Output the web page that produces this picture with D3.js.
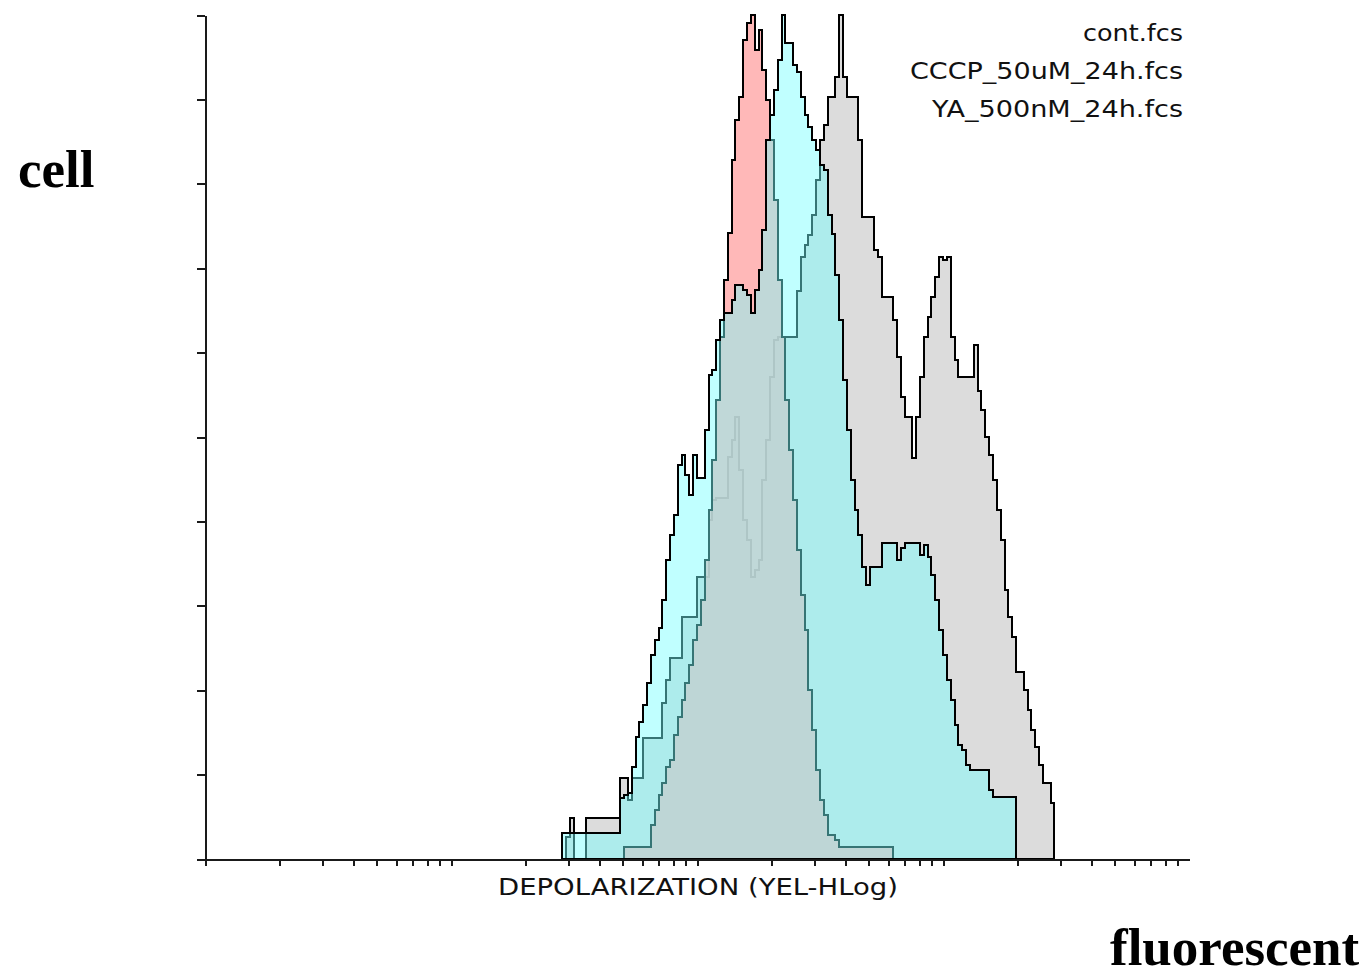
<!DOCTYPE html>
<html>
<head>
<meta charset="utf-8">
<script src="https://cdn.jsdelivr.net/npm/d3@7"></script>
<style>
	body { margin: 0; background: #fff; }
	.axis path, .axis line { stroke: #1a1a1a; stroke-width: 2; shape-rendering: crispEdges; }
	.legend, .xlabel { font-family: "DejaVu Sans", sans-serif; fill: #111; }
	.bigLabel { font-family: "Liberation Serif", "Times New Roman", serif; font-weight: bold; fill: #000; }
</style>
</head>
<body>
<div id="chartDiv"></div>
<script>
	// legend + axis text
	var legendLabels = ["cont.fcs", "CCCP_50uM_24h.fcs", "YA_500nM_24h.fcs"];
	var xAxisLabelHeader = "DEPOLARIZATION (YEL-HLog)";
	var yAxisWord = "cell";
	var xAxisWord = "fluorescent";
	var yTickValues = [0, 10, 20, 30, 40, 50, 60, 70, 80, 90, 100];

	// histograms: 256 channels over 4 log decades, counts scaled so the peak = 100
	var contStart = 94;
	var contCounts = [2.6, 4.9, 0, 0, 0, 4.9, 4.9, 4.9, 4.9, 4.9, 4.9, 4.9, 4.9, 4.9,
		9.6, 9.6, 7.0, 9.6, 9.6, 9.6, 14.3, 14.3, 14.3, 14.3, 14.3,
		18.5, 21.2, 23.8, 23.8, 23.8, 28.7, 28.7, 28.7, 28.7, 33.4, 33.4, 33.4,
		40.2, 42.5, 42.8, 42.8, 42.8, 47.6, 49.6, 52.4, 46.1, 40.2, 37.8, 33.4, 34.2, 35.4,
		44.9, 49.6, 57.1, 61.5, 61.8, 61.8, 61.8, 61.8, 61.8, 67.3, 71.3, 72.7, 73.9, 76.3,
		80.5, 85.2, 87.0, 90.3, 90.3, 92.7, 100, 92.7, 90.3, 90.3, 90.3, 85.2,
		76.1, 76.1, 76.1, 72.2, 71.3, 66.6, 66.6, 66.6, 63.9, 59.5, 54.7, 52.4, 52.4, 47.5,
		52.4, 57.1, 61.8, 64.2, 66.6, 69.0, 71.3, 71.0, 71.3, 61.8, 59.1, 57.1, 57.1, 57.1, 57.1,
		60.9, 55.5, 53.2, 50.0, 47.9, 44.9, 41.4, 37.8, 31.9, 28.7, 26.3, 22.2, 22.2, 20.0,
		17.7, 15.3, 13.3, 11.1, 9.0, 9.0, 6.6];

	var cccpStart = 93;
	var cccpCounts = [3.1, 3.1, 3.1, 3.1, 3.1, 3.1, 3.1, 3.1, 3.1, 3.1, 3.1, 3.1, 3.1, 3.1, 3.1,
		7.2, 7.6, 7.8, 10.9, 14.5, 16.2, 18.2, 20.9, 24.2, 25.9, 27.4, 30.7, 35.4, 38.4, 40.8,
		46.7, 47.9, 45.5, 43.1, 47.9, 45.1, 45.1, 50.8, 57.3, 57.9, 61.5, 63.9, 64.7,
		64.7, 66.2, 68.0, 68.0, 67.4, 66.8, 64.7, 67.4, 69.8, 74.5, 85.2, 88.2, 91.1, 94.7,
		100, 96.7, 96.7, 94.1, 93.2, 90.3, 88.2, 86.7, 85.2, 84.0, 82.2, 81.6, 76.3, 74.0,
		69.2, 63.9, 56.8, 50.8, 44.9, 41.4, 38.4, 34.6, 32.5, 34.6, 34.6, 34.6, 37.4, 37.4,
		37.4, 37.4, 35.4, 36.8, 37.4, 37.4, 37.4, 37.4, 36.0, 37.2, 35.8, 33.6, 30.7, 27.1,
		24.2, 21.2, 18.8, 15.9, 13.5, 12.9, 11.1, 10.5, 10.5, 10.5, 10.5, 10.5, 8.2,
		7.3, 7.3, 7.3, 7.3, 7.3, 7.3];

	var yaStart = 109;
	var yaCounts = [1.4, 1.4, 1.4, 1.4, 1.4, 1.4, 1.4, 4.0, 5.8, 7.6, 9.0, 10.9, 11.7, 14.7,
		16.8, 18.8, 20.9, 23.0, 25.9, 27.7, 30.7, 35.4, 41.4, 47.3, 54.4, 61.8, 68.6, 74.2,
		82.8, 87.6, 90.3, 97.0, 99.1, 100, 95.9, 98.2, 93.5, 89.9, 85.2, 78.1, 68.6, 61.8,
		54.4, 48.5, 42.5, 36.6, 31.3, 27.1, 20.0, 15.3, 10.5, 7.0, 5.2, 2.8, 2.8, 2.3,
		1.4, 1.4, 1.4, 1.4, 1.4, 1.4, 1.4, 1.4, 1.4, 1.4, 1.4, 1.4, 1.4, 1.4];

	var width = 1371;
	var height = 977;
	var plot = { left: 205, right: 1189, top: 15, bottom: 859 };
	var channelsPerDecade = 64;

	var chart;

	init();

	function init() {
		chart = d3.select("#chartDiv").append("svg")
			.attr("width", width)
			.attr("height", height);

		chart.xScale = d3.scaleLog()
			.domain([1, 1e4])
			.range([plot.left, plot.right]);

		chart.yScale = d3.scaleLinear()
			.domain([0, 100])
			.range([plot.bottom, plot.top]);

		// overlay order: control at the back, YA in the middle, CCCP on top
		drawHistogram(contStart, contCounts, "#dcdcdc", 1);
		drawHistogram(yaStart, yaCounts, "rgb(255,174,174)", 0.87);
		drawHistogram(cccpStart, cccpCounts, "rgb(117,255,255)", 0.46);

		createAxes();
		addLegend();
		addLabels();
	}

	function channelToValue(ch) {
		return Math.pow(10, ch / channelsPerDecade);
	}

	function drawHistogram(start, counts, fill, opacity) {
		var pts = [{ ch: start, v: 0 }];
		counts.forEach(function(c, i) {
			pts.push({ ch: start + i, v: c });
		});
		pts.push({ ch: start + counts.length, v: 0 });

		var area = d3.area()
			.curve(d3.curveStepAfter)
			.x(function(d) { return chart.xScale(channelToValue(d.ch)); })
			.y0(chart.yScale(0))
			.y1(function(d) { return chart.yScale(d.v); });

		chart.append("path")
			.datum(pts)
			.attr("d", area)
			.attr("fill", fill)
			.attr("fill-opacity", opacity)
			.attr("stroke", "#000")
			.attr("stroke-width", 2)
			.attr("shape-rendering", "crispEdges");
	}

	function createAxes() {
		var xTicks = chart.xScale.ticks().filter(function(t) { return t < 1e4; });

		chart.xAxis = d3.axisBottom(chart.xScale)
			.tickValues(xTicks)
			.tickSize(7)
			.tickSizeOuter(0)
			.tickFormat("");

		chart.append("g")
			.attr("class", "x axis")
			.attr("transform", "translate(0," + plot.bottom + ")")
			.call(chart.xAxis);

		chart.yAxis = d3.axisLeft(chart.yScale)
			.tickValues(yTickValues)
			.tickSize(8)
			.tickSizeOuter(0)
			.tickFormat("");

		chart.append("g")
			.attr("class", "y axis")
			.attr("transform", "translate(" + plot.left + ",0)")
			.call(chart.yAxis);

		chart.append("text")
			.attr("class", "xlabel")
			.attr("x", 498)
			.attr("y", 895)
			.attr("textLength", 400)
			.attr("lengthAdjust", "spacingAndGlyphs")
			.style("font-size", "23px")
			.text(xAxisLabelHeader);
	}

	function addLegend() {
		var widths = [100, 273, 251];
		chart.selectAll(".legend")
			.data(legendLabels)
			.enter().append("text")
				.attr("class", "legend")
				.attr("text-anchor", "end")
				.attr("x", 1183)
				.attr("y", function(d, i) { return 41 + i * 38; })
				.attr("textLength", function(d, i) { return widths[i]; })
				.attr("lengthAdjust", "spacingAndGlyphs")
				.style("font-size", "23px")
				.text(function(d) { return d; });
	}

	function addLabels() {
		chart.append("text")
			.attr("class", "bigLabel")
			.attr("x", 18)
			.attr("y", 187)
			.style("font-size", "53px")
			.text(yAxisWord);

		chart.append("text")
			.attr("class", "bigLabel")
			.attr("x", 1110)
			.attr("y", 965)
			.style("font-size", "53px")
			.text(xAxisWord);
	}
</script>
</body>
</html>
